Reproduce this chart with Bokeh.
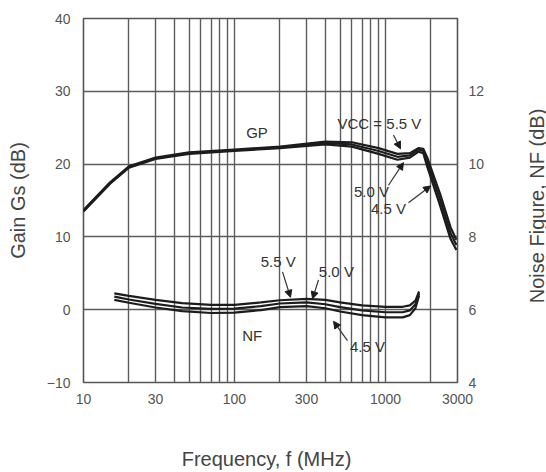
import math
from bokeh.plotting import figure
from bokeh.layouts import row
from bokeh.models import Range1d, LinearAxis, LogAxis, FixedTicker, Arrow, NormalHead, Label
from bokeh.core.properties import value
from bokeh.embed import file_html
from bokeh.resources import INLINE

# ---- data -------------------------------------------------------------
freq_gain = [10, 15, 20, 30, 50, 100, 200, 400, 600, 900, 1200, 1450, 1650, 1780, 1900, 2300, 2700, 2950]
gain_55 = [13.7, 17.5, 19.7, 20.9, 21.6, 22.0, 22.4, 23.1, 23.0, 22.2, 21.4, 21.5, 22.2, 22.1, 20.8, 15.9, 11.3, 9.6]
gain_50 = [13.6, 17.4, 19.6, 20.8, 21.5, 21.9, 22.3, 22.9, 22.7, 21.8, 21.0, 21.2, 22.0, 21.8, 20.2, 15.1, 10.5, 8.9]
gain_45 = [13.5, 17.3, 19.5, 20.7, 21.4, 21.8, 22.2, 22.7, 22.4, 21.4, 20.6, 20.9, 21.7, 21.5, 19.5, 14.3, 9.7, 8.2]

freq_nf = [16, 20, 30, 45, 70, 100, 150, 200, 300, 400, 500, 700, 1000, 1300, 1450, 1580, 1670]
nf_55 = [6.45, 6.38, 6.27, 6.18, 6.13, 6.13, 6.20, 6.26, 6.30, 6.27, 6.20, 6.12, 6.08, 6.08, 6.12, 6.25, 6.50]
nf_50 = [6.36, 6.28, 6.16, 6.06, 6.02, 6.03, 6.10, 6.17, 6.20, 6.15, 6.07, 5.98, 5.93, 5.93, 5.98, 6.15, 6.45]
nf_45 = [6.27, 6.19, 6.06, 5.96, 5.91, 5.92, 5.99, 6.07, 6.10, 6.04, 5.95, 5.85, 5.79, 5.79, 5.85, 6.04, 6.39]

x_tick_vals = [10, 30, 100, 300, 1000, 3000]
x_tick_labels = ["10", "30", "100", "300", "1000", "3000"]
x_grid_vals = [20, 30, 40, 50, 60, 70, 80, 90, 100, 200, 300, 400, 500, 600, 700, 800, 900, 1000, 2000]
gain_ticks = [-10, 0, 10, 20, 30, 40]
gain_grid = [0, 10, 20, 30]
nf_ticks = [4, 6, 8, 10, 12]

x_title = "Frequency, f (MHz)"
left_title = "Gain Gs (dB)"
right_title = "Noise Figure, NF (dB)"

FONT = "Liberation Sans"
INK = "#1c1c1c"
TITLE_COLOR = "#444444"

MAIN_W, STRIP_W, H = 518, 28, 472
BORDER_LEFT, BORDER_TOP, BORDER_BOTTOM = 83, 18, 89
FRAME_RIGHT = 457

p = figure(width=MAIN_W, height=H, x_axis_type="log",
           x_range=Range1d(10, 3000), y_range=Range1d(-10, 40),
           output_backend="svg", toolbar_location=None,
           min_border_left=BORDER_LEFT, min_border_right=MAIN_W - FRAME_RIGHT,
           min_border_top=BORDER_TOP, min_border_bottom=BORDER_BOTTOM)
p.extra_y_ranges = {"nf": Range1d(4, 14)}

p.background_fill_color = "white"
p.border_fill_color = "white"
p.outline_line_color = "#555555"
p.outline_line_width = 1.6

p.xgrid.ticker = FixedTicker(ticks=x_grid_vals)
p.ygrid.ticker = FixedTicker(ticks=gain_grid)
for g in (p.xgrid, p.ygrid):
    g.grid_line_color = "#5c5c5c"
    g.grid_line_width = 1.4

left = p.left[0]
bottom = p.below[0]
right = LinearAxis(y_range_name="nf", ticker=FixedTicker(ticks=nf_ticks))
p.add_layout(right, "right")

# second "axis" below, carrying the x title as its single label
x_title_pos = 163
bottom2 = LogAxis(ticker=FixedTicker(ticks=[x_title_pos]),
                  major_label_overrides={x_title_pos: x_title})
p.add_layout(bottom2, "below")

bottom.ticker = FixedTicker(ticks=x_tick_vals)
bottom.major_label_overrides = {v: s for v, s in zip(x_tick_vals, x_tick_labels)}
left.ticker = FixedTicker(ticks=gain_ticks)
left.axis_label = left_title

for ax in (left, bottom, right, bottom2):
    ax.axis_line_color = None
    ax.major_tick_line_color = None
    ax.minor_tick_line_color = None
    ax.major_tick_out = 0
    ax.major_tick_in = 0
    ax.minor_tick_out = 0
    ax.minor_tick_in = 0
    ax.major_label_text_font = FONT
    ax.major_label_text_font_size = "14px"
    ax.major_label_text_color = "#555555"
    ax.axis_label_text_font = FONT
    ax.axis_label_text_font_size = "20px"
    ax.axis_label_text_font_style = "normal"
    ax.axis_label_text_color = TITLE_COLOR

bottom2.major_label_text_font_size = "20px"
bottom2.major_label_text_color = TITLE_COLOR

bottom.major_label_standoff = 11
bottom2.major_label_standoff = 41
left.major_label_standoff = 13
left.axis_label_standoff = 15
right.major_label_standoff = 11

# ---- curves -----------------------------------------------------------
for gv in (gain_45, gain_50, gain_55):
    p.line(freq_gain, gv, line_color=INK, line_width=2.2)
for nv in (nf_45, nf_50, nf_55):
    p.line(freq_nf, nv, line_color=INK, line_width=2.2, y_range_name="nf")

# ---- annotations ------------------------------------------------------
def lab(x, y, t):
    p.add_layout(Label(x=x, y=y, text=t, text_font=FONT, text_font_size="15px",
                       text_color="#333333", text_align="center", text_baseline="middle"))

def arr(x0, y0, x1, y1):
    p.add_layout(Arrow(x_start=x0, y_start=y0, x_end=x1, y_end=y1,
                       line_color="#333333", line_width=1.2,
                       end=NormalHead(size=7, fill_color=INK, line_color=INK)))

lab(141, 24.4, "GP")
lab(912, 25.6, "VCC = 5.5 V")
arr(1130, 24.0, 1257, 22.1)
lab(807, 16.2, "5.0 V")
arr(1047, 17.1, 1316, 20.2)
lab(1047, 13.9, "4.5 V")
arr(1420, 14.7, 1990, 17.0)

lab(195, 6.6, "5.5 V")
arr(208, 5.2, 235, 1.7)
lab(473, 5.25, "5.0 V")
arr(360, 4.1, 329, 1.5)
lab(760, -5.07, "4.5 V")
arr(560, -4.25, 453, -1.6)
lab(131, -3.56, "NF")

# ---- narrow strip on the right carrying the right-axis title -----------
strip = figure(width=STRIP_W, height=H, x_range=Range1d(0, STRIP_W), y_range=Range1d(-10, 40),
               output_backend="svg", toolbar_location=None,
               x_axis_location=None, y_axis_location=None,
               min_border_left=0, min_border_right=0,
               min_border_top=BORDER_TOP, min_border_bottom=BORDER_BOTTOM)
strip.outline_line_color = None
strip.grid.visible = False
strip.background_fill_color = "white"
strip.border_fill_color = "white"
strip.text(x=[18], y=[14.25], text=[right_title], angle=math.pi / 2,
           text_font=value(FONT), text_font_size=value("20px"),
           text_color=TITLE_COLOR, text_align="center", text_baseline="middle")

layout = row(p, strip)
open("out.html", "w").write(file_html(layout, INLINE))
